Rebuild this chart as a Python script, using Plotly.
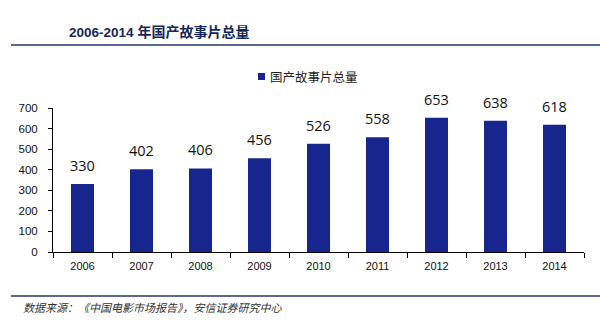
import plotly.graph_objects as go

years = ["2006", "2007", "2008", "2009", "2010", "2011", "2012", "2013", "2014"]
films = [330, 402, 406, 456, 526, 558, 653, 638, 618]
series_name = "国产故事片总量"
title_years = "2006-2014"
title_cn = "年国产故事片总量"
source_text = "数据来源：《中国电影市场报告》，安信证券研究中心"

W, H = 600, 326
L, R, T, B = 53, 16, 108, 74
pw, ph = W - L - R, H - T - B


def px_x(x):
    return (x - L) / pw


def px_y(y):
    return (H - B - y) / ph


navy = "#1F3A6E"
bar_color = "#17268E"

fig = go.Figure()
fig.add_trace(go.Bar(
    x=years,
    y=films,
    name=series_name,
    showlegend=False,
    marker=dict(color=bar_color, line=dict(width=0)),
    width=0.39,
))

# value labels above each bar (category position given by index)
for i, v in enumerate(films):
    fig.add_annotation(
        x=i, y=v, xref="x", yref="y",
        text=str(v),
        showarrow=False,
        xanchor="center", yanchor="bottom",
        yshift=7,
        font=dict(family="Open Sans, Noto Sans, sans-serif", size=14.5, color="#111111"),
    )

fig.update_layout(
    width=W,
    height=H,
    margin=dict(l=L, r=R, t=T, b=B, pad=0),
    paper_bgcolor="white",
    plot_bgcolor="white",
    showlegend=False,
    bargap=0.6,
    xaxis=dict(
        type="category",
        categoryorder="array", categoryarray=years,
        range=[-0.5, len(years) - 0.5],
        showline=True, linecolor="black", linewidth=1,
        ticks="outside", ticklen=5, tickcolor="black",
        tickson="boundaries",
        ticklabelstandoff=4,
        showgrid=False,
        tickfont=dict(family="Liberation Sans, Arial, sans-serif", size=11, color="#111111"),
    ),
    yaxis=dict(
        range=[0, 700],
        tickvals=[0, 100, 200, 300, 400, 500, 600, 700],
        showline=True, linecolor="black", linewidth=1,
        ticks="outside", ticklen=4, tickcolor="black",
        ticklabelstandoff=8,
        showgrid=False, zeroline=False,
        tickfont=dict(family="Liberation Sans, Arial, sans-serif", size=11.5, color="#111111"),
    ),
)

# series key above the plot
fig.add_shape(
    type="rect", xref="paper", yref="paper",
    x0=px_x(258), x1=px_x(265), y0=px_y(80), y1=px_y(73),
    fillcolor=bar_color, line=dict(width=0),
)
fig.add_annotation(
    text=series_name,
    xref="paper", yref="paper",
    x=px_x(268), y=px_y(76.5),
    xanchor="left", yanchor="middle",
    showarrow=False,
    font=dict(family="Noto Sans CJK SC", size=12.5, color="#222222"),
)

# header title and rule
fig.add_annotation(
    text="<b><span style='font-size:13.5px'>" + title_years + "</span> " + title_cn + "</b>",
    xref="paper", yref="paper",
    x=px_x(67), y=px_y(32),
    xanchor="left", yanchor="middle",
    showarrow=False,
    font=dict(family="Liberation Sans, Noto Sans CJK SC, sans-serif", size=14, color="#14285A"),
)
fig.add_shape(
    type="line", xref="paper", yref="paper",
    x0=px_x(11), x1=px_x(600), y0=px_y(45), y1=px_y(45),
    line=dict(color=navy, width=1.5),
)

# footer rule and source note
fig.add_shape(
    type="line", xref="paper", yref="paper",
    x0=px_x(11), x1=px_x(600), y0=px_y(296), y1=px_y(296),
    line=dict(color=navy, width=1.5),
)
fig.add_annotation(
    text="<i>" + source_text + "</i>",
    xref="paper", yref="paper",
    x=px_x(21), y=px_y(307),
    xanchor="left", yanchor="middle",
    showarrow=False,
    font=dict(family="Noto Sans CJK SC", size=11, color="#333333"),
)

fig.write_html("out.html")
